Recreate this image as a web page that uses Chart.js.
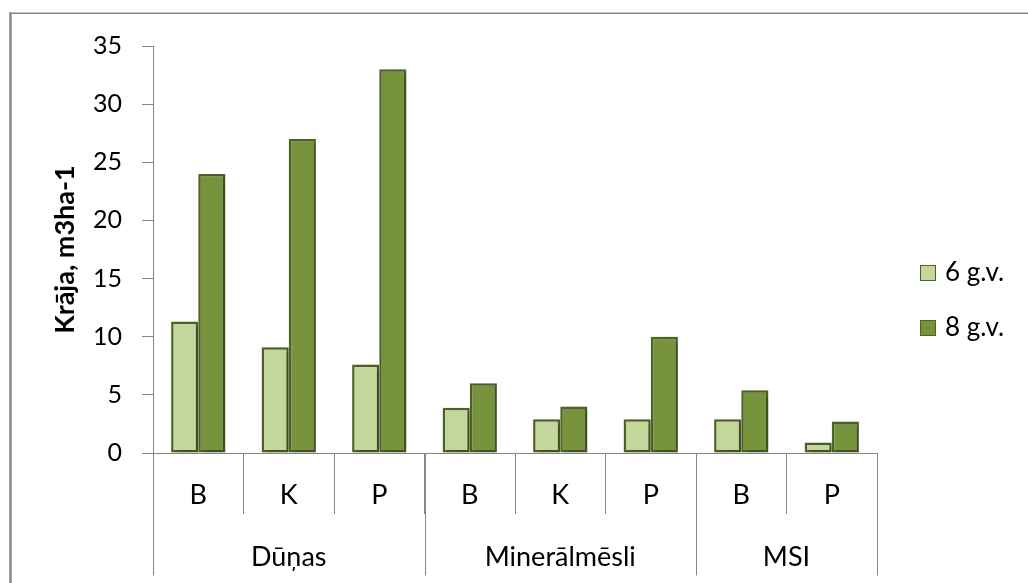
<!DOCTYPE html>
<html>
<head>
<meta charset="utf-8">
<script src="https://cdn.jsdelivr.net/npm/chart.js@4.4.0/dist/chart.umd.min.js"></script>
<style>
  html, body { margin: 0; padding: 0; background: #fff; }
  #wrap { width: 1028px; height: 583px; position: relative; }
</style>
</head>
<body>
<div id="wrap"><canvas id="c" width="1028" height="583"></canvas></div>
<script>
// Data
const categories = ['B', 'K', 'P', 'B', 'K', 'P', 'B', 'P'];
const groupNames = ['Dūņas', 'Minerālmēsli', 'MSI'];
const groupSizes = [3, 3, 2];
const seriesNames = ['6 g.v.', '8 g.v.'];
const values6 = [11.3, 9.1, 7.6, 3.9, 2.9, 2.9, 2.9, 0.9];
const values8 = [24, 27, 33, 6, 4, 10, 5.4, 2.7];
const yMin = 0, yMax = 35, yStep = 5;
const yTitle = 'Krāja, m3ha-1';

const AXIS_GREY = '#868686';
const EDGE = '#4F6228';
const FONT = 'Lato';

// Outer chart frame
const framePlugin = {
  id: 'frame',
  beforeDraw(chart) {
    const ctx = chart.ctx;
    ctx.save();
    ctx.strokeStyle = AXIS_GREY;
    ctx.lineWidth = 1.5;
    ctx.beginPath();
    ctx.moveTo(9, 13.3);
    ctx.lineTo(chart.width, 13.3);
    ctx.stroke();
    ctx.lineWidth = 2.5;
    ctx.beginPath();
    ctx.moveTo(10.5, 12.5);
    ctx.lineTo(10.5, chart.height);
    ctx.stroke();
    ctx.restore();
  }
};

// Soft drop shadow behind the bars
const shadowPlugin = {
  id: 'barShadow',
  beforeDatasetDraw(chart) {
    const ctx = chart.ctx;
    ctx.save();
    ctx.shadowColor = 'rgba(0,0,0,0.28)';
    ctx.shadowBlur = 5;
    ctx.shadowOffsetX = 3;
    ctx.shadowOffsetY = 2;
  },
  afterDatasetDraw(chart) {
    chart.ctx.restore();
  }
};

// Second level of the category axis: group separators and group names
const groupAxisPlugin = {
  id: 'groupAxis',
  afterDraw(chart) {
    const ctx = chart.ctx;
    const xs = chart.scales.x;
    const top = chart.chartArea.bottom;
    const bottom = 575.5;
    ctx.save();
    ctx.strokeStyle = AXIS_GREY;
    ctx.lineWidth = 1;
    let start = 0;
    const edges = [start];
    groupSizes.forEach(n => { start += n; edges.push(start); });
    edges.forEach(i => {
      const px = Math.round(xs.getPixelForValue(i - 0.5)) + 0.5;
      ctx.beginPath();
      ctx.moveTo(px, top);
      ctx.lineTo(px, bottom);
      ctx.stroke();
    });
    ctx.fillStyle = '#000';
    ctx.font = '27px ' + FONT;
    ctx.textAlign = 'center';
    ctx.textBaseline = 'middle';
    groupNames.forEach((name, g) => {
      const a = xs.getPixelForValue(edges[g] - 0.5);
      const b = xs.getPixelForValue(edges[g + 1] - 0.5);
      ctx.fillText(name, (a + b) / 2, 557);
    });
    ctx.restore();
  }
};

// Legend on the right
const legendPlugin = {
  id: 'sideLegend',
  afterDraw(chart) {
    const ctx = chart.ctx;
    const rows = [273, 328];
    ctx.save();
    chart.data.datasets.forEach((ds, i) => {
      const y = rows[i];
      ctx.fillStyle = ds.backgroundColor;
      ctx.fillRect(920, y - 8, 16, 16);
      ctx.strokeStyle = EDGE;
      ctx.lineWidth = 1;
      ctx.strokeRect(920.5, y - 7.5, 15, 15);
      ctx.fillStyle = '#000';
      ctx.font = '26px ' + FONT;
      ctx.textAlign = 'left';
      ctx.textBaseline = 'middle';
      ctx.fillText(ds.label, 945, y);
    });
    ctx.restore();
  }
};

new Chart(document.getElementById('c'), {
  type: 'bar',
  data: {
    labels: categories,
    datasets: [
      { label: seriesNames[0], data: values6, backgroundColor: '#C3D69B', borderColor: EDGE, borderWidth: 2.5, borderSkipped: false },
      { label: seriesNames[1], data: values8, backgroundColor: '#77933C', borderColor: EDGE, borderWidth: 2.5, borderSkipped: false }
    ]
  },
  options: {
    responsive: false,
    animation: false,
    devicePixelRatio: 1,
    layout: { padding: { left: 10, right: 151, top: 46, bottom: 0 } },
    datasets: { bar: { categoryPercentage: 0.6, barPercentage: 1 } },
    plugins: {
      legend: { display: false },
      tooltip: { enabled: false }
    },
    scales: {
      x: {
        grid: { offset: true, drawOnChartArea: false, tickLength: 61, color: AXIS_GREY },
        border: { color: AXIS_GREY, width: 1 },
        ticks: { padding: -35, color: '#000', font: { family: FONT, size: 27 }, maxRotation: 0, autoSkip: false },
        afterFit(s) { s.height = 130; }
      },
      y: {
        min: yMin,
        max: yMax,
        ticks: { stepSize: yStep, padding: 20, color: '#000', font: { family: FONT, size: 25 } },
        grid: { drawOnChartArea: false, tickLength: 11, color: AXIS_GREY },
        border: { color: AXIS_GREY, width: 1 },
        title: {
          display: true,
          text: yTitle,
          color: '#000',
          font: { family: FONT, size: 27, weight: 'bold' },
          padding: { top: 39, bottom: 0 }
        },
        afterFit(s) { s.width = 143; }
      }
    }
  },
  plugins: [framePlugin, shadowPlugin, groupAxisPlugin, legendPlugin]
});
</script>
</body>
</html>
